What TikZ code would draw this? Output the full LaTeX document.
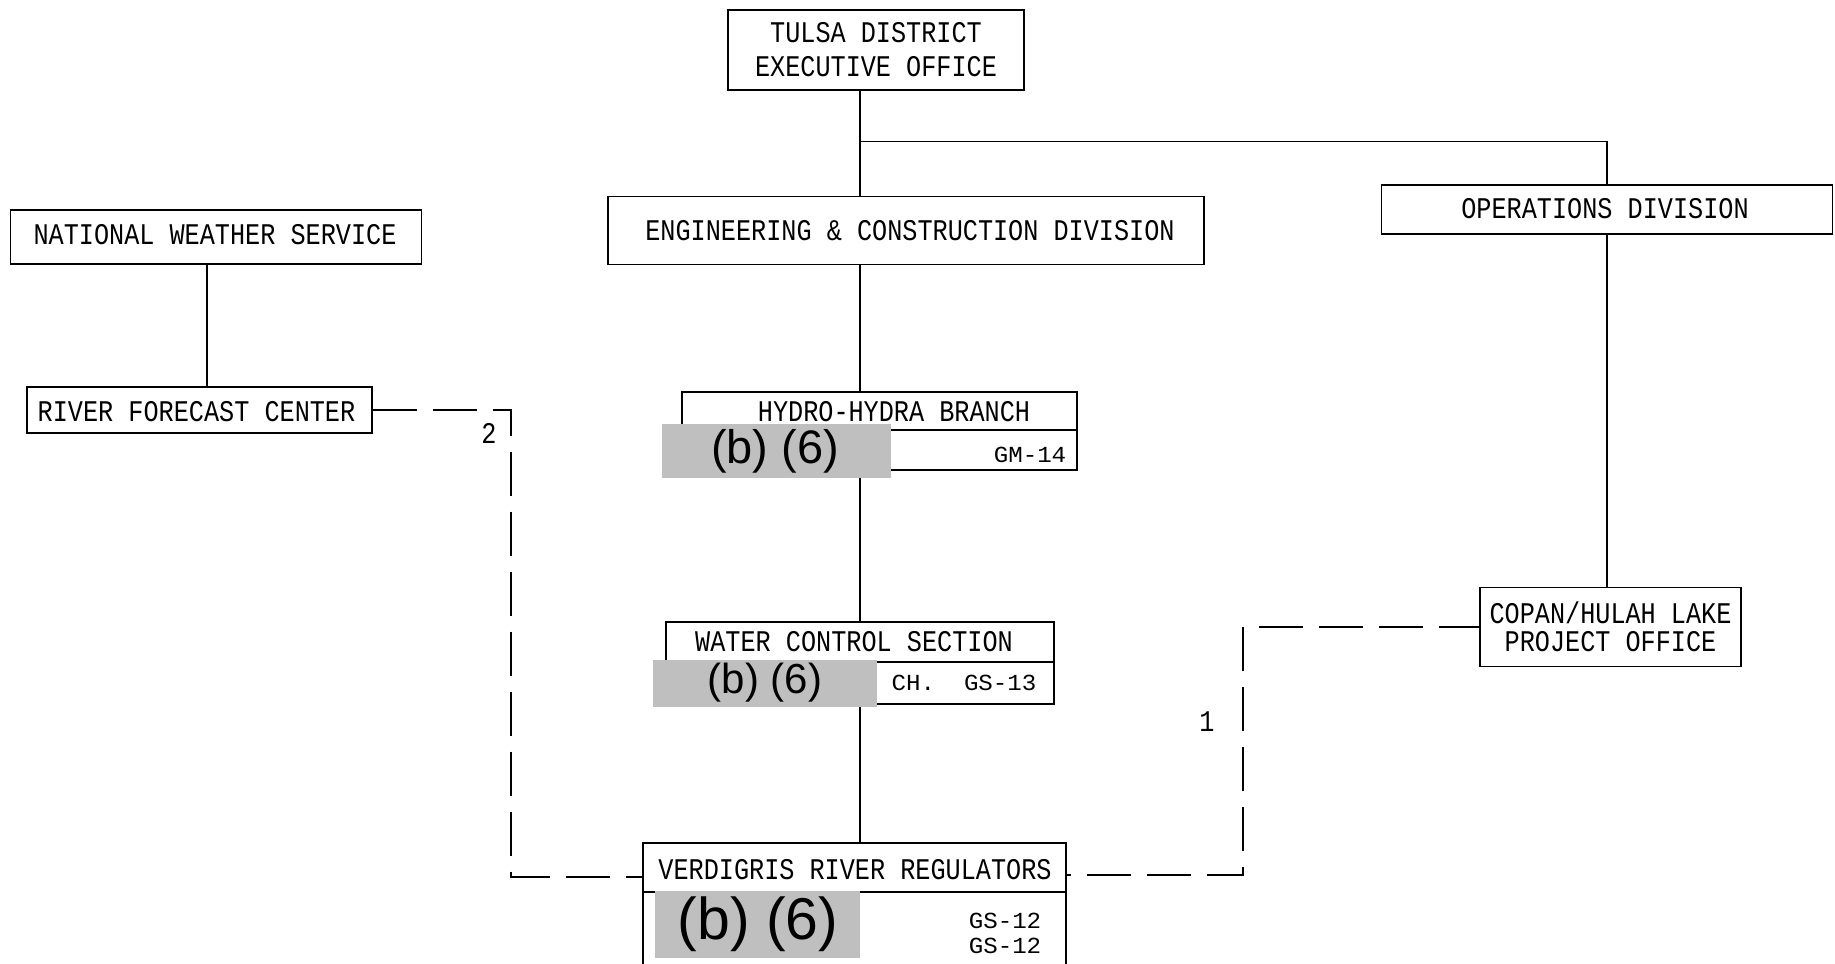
\documentclass[tikz,border=0pt]{standalone}
\usepackage{fontspec}
\newfontfamily\cadfont[FakeStretch=0.84]{Liberation Mono}
\newfontfamily\cadsmallfont[FakeStretch=1.05]{Liberation Mono}
\newfontfamily\redfont{Liberation Sans}
\definecolor{redact}{RGB}{191,191,191}
\newcommand\cadmain{\cadfont\fontsize{30}{34}\selectfont}
\newcommand\cadsub{\cadsmallfont\fontsize{23}{25}\selectfont}
\tikzset{
  box/.style={draw, line width=1.4pt, inner sep=0pt, align=center, font=\cadmain},
  conn/.style={line width=1.4pt},
  dashconn/.style={line width=1.4pt, dash pattern=on 44pt off 16pt},
  title/.style={inner sep=0pt, font=\cadmain},
  sub/.style={inner sep=0pt, font=\cadsub},
  redbox/.style={fill=redact, inner sep=0pt},
  redtext/.style={inner sep=0pt, font=\redfont},
  lab/.style={inner sep=0pt, font=\cadmain}
}
\begin{document}
\begin{tikzpicture}[x=1pt,y=-1pt]
\useasboundingbox (0,0) rectangle (1835,963);
\fill[white] (0,0) rectangle (1835,963);
\clip (0,0) rectangle (1835,963);
\coordinate (spine) at (860,0);
\coordinate (nwsx) at (207,0);

% boxes
\node[box, minimum width=296pt, minimum height=80pt] (tulsa) at (876,50) {TULSA DISTRICT\\EXECUTIVE OFFICE};
\node[box, minimum width=596pt, minimum height=68pt] (eng) at (906,230.5) {};
\node[title] (engt) at (910,231) {ENGINEERING \& CONSTRUCTION DIVISION};
\node[box, minimum width=451pt, minimum height=49pt] (ops) at (1607,209.5) {};
\node[title] (opst) at (1605,209) {OPERATIONS DIVISION};
\node[box, minimum width=261pt, minimum height=79pt, font=\cadfont\fontsize{30}{28}\selectfont] (copan) at (1610.5,627) {COPAN/HULAH LAKE\\PROJECT OFFICE};
\node[box, minimum width=411pt, minimum height=54pt] (nws) at (216,237) {};
\node[title] (nwst) at (215,235) {NATIONAL WEATHER SERVICE};
\node[box, minimum width=345pt, minimum height=46pt] (rfc) at (199.5,410) {};
\node[title] (rfct) at (196.5,412) {RIVER FORECAST CENTER};

\node[box, minimum width=395pt, minimum height=78pt] (hydro) at (879.5,431) {};
\draw[conn] (hydro.west |- 0,430) -- (hydro.east |- 0,430);
\node[title] (hydrot) at (894,411.5) {HYDRO-HYDRA BRANCH};
\node[sub] (hydros) at (1030,455) {GM-14};

\node[box, minimum width=388pt, minimum height=82pt] (water) at (860,663) {};
\draw[conn] (water.west |- 0,662) -- (water.east |- 0,662);
\node[title] (watert) at (854,642) {WATER CONTROL SECTION};
\node[sub] (waters) at (964,683) {CH.\ \ GS-13};

\node[box, minimum width=423pt, minimum height=200pt] (verd) at (854.5,943) {};
\draw[conn] (verd.west |- 0,892) -- (verd.east |- 0,892);
\node[title] (verdt) at (855,870) {VERDIGRIS RIVER REGULATORS};
\node[sub, align=center, font=\cadsmallfont\fontsize{23}{25}\selectfont] (verds) at (1005,933) {GS-12\\GS-12};

% solid connectors
\draw[conn] (tulsa.south -| spine) -- (eng.north -| spine);
\coordinate (junc) at (860,141.6);
\draw[conn] (junc) -| (ops.north);
\draw[conn] (eng.south -| spine) -- (hydro.north -| spine);
\draw[conn] (hydro.south -| spine) -- (water.north -| spine);
\draw[conn] (water.south -| spine) -- (verd.north -| spine);
\draw[conn] (ops.south) -- (ops.south |- copan.north);
\draw[conn] (nws.south -| nwsx) -- (rfc.north -| nwsx);

% dashed connectors
\coordinate (d2) at (511,877);
\draw[dashconn] (rfc.east) -| (d2) -- (verd.west |- d2);
\coordinate (d1) at (1243,875);
\draw[dashconn, dash phase=40pt] (verd.east |- d1) -- (d1) |- (copan.west);
\node[lab] (l2) at (489,433) {2};
\node[lab] (l1) at (1207,722) {1};

% redactions
\node[redbox, minimum width=229pt, minimum height=54pt] (r1) at (776.5,451) {};
\node[redtext, font=\redfont\fontsize{47}{47}\selectfont] (r1t) at (775,451) {(b) (6)};
\node[redbox, minimum width=224pt, minimum height=47pt] (r2) at (765,683) {};
\node[redtext, font=\redfont\fontsize{42}{42}\selectfont] (r2t) at (765,683) {(b) (6)};
\node[redbox, minimum width=205pt, minimum height=67pt] (r3) at (757.5,924) {};
\node[redtext, font=\redfont\fontsize{59}{59}\selectfont] (r3t) at (758,924) {(b) (6)};
\end{tikzpicture}
\end{document}
